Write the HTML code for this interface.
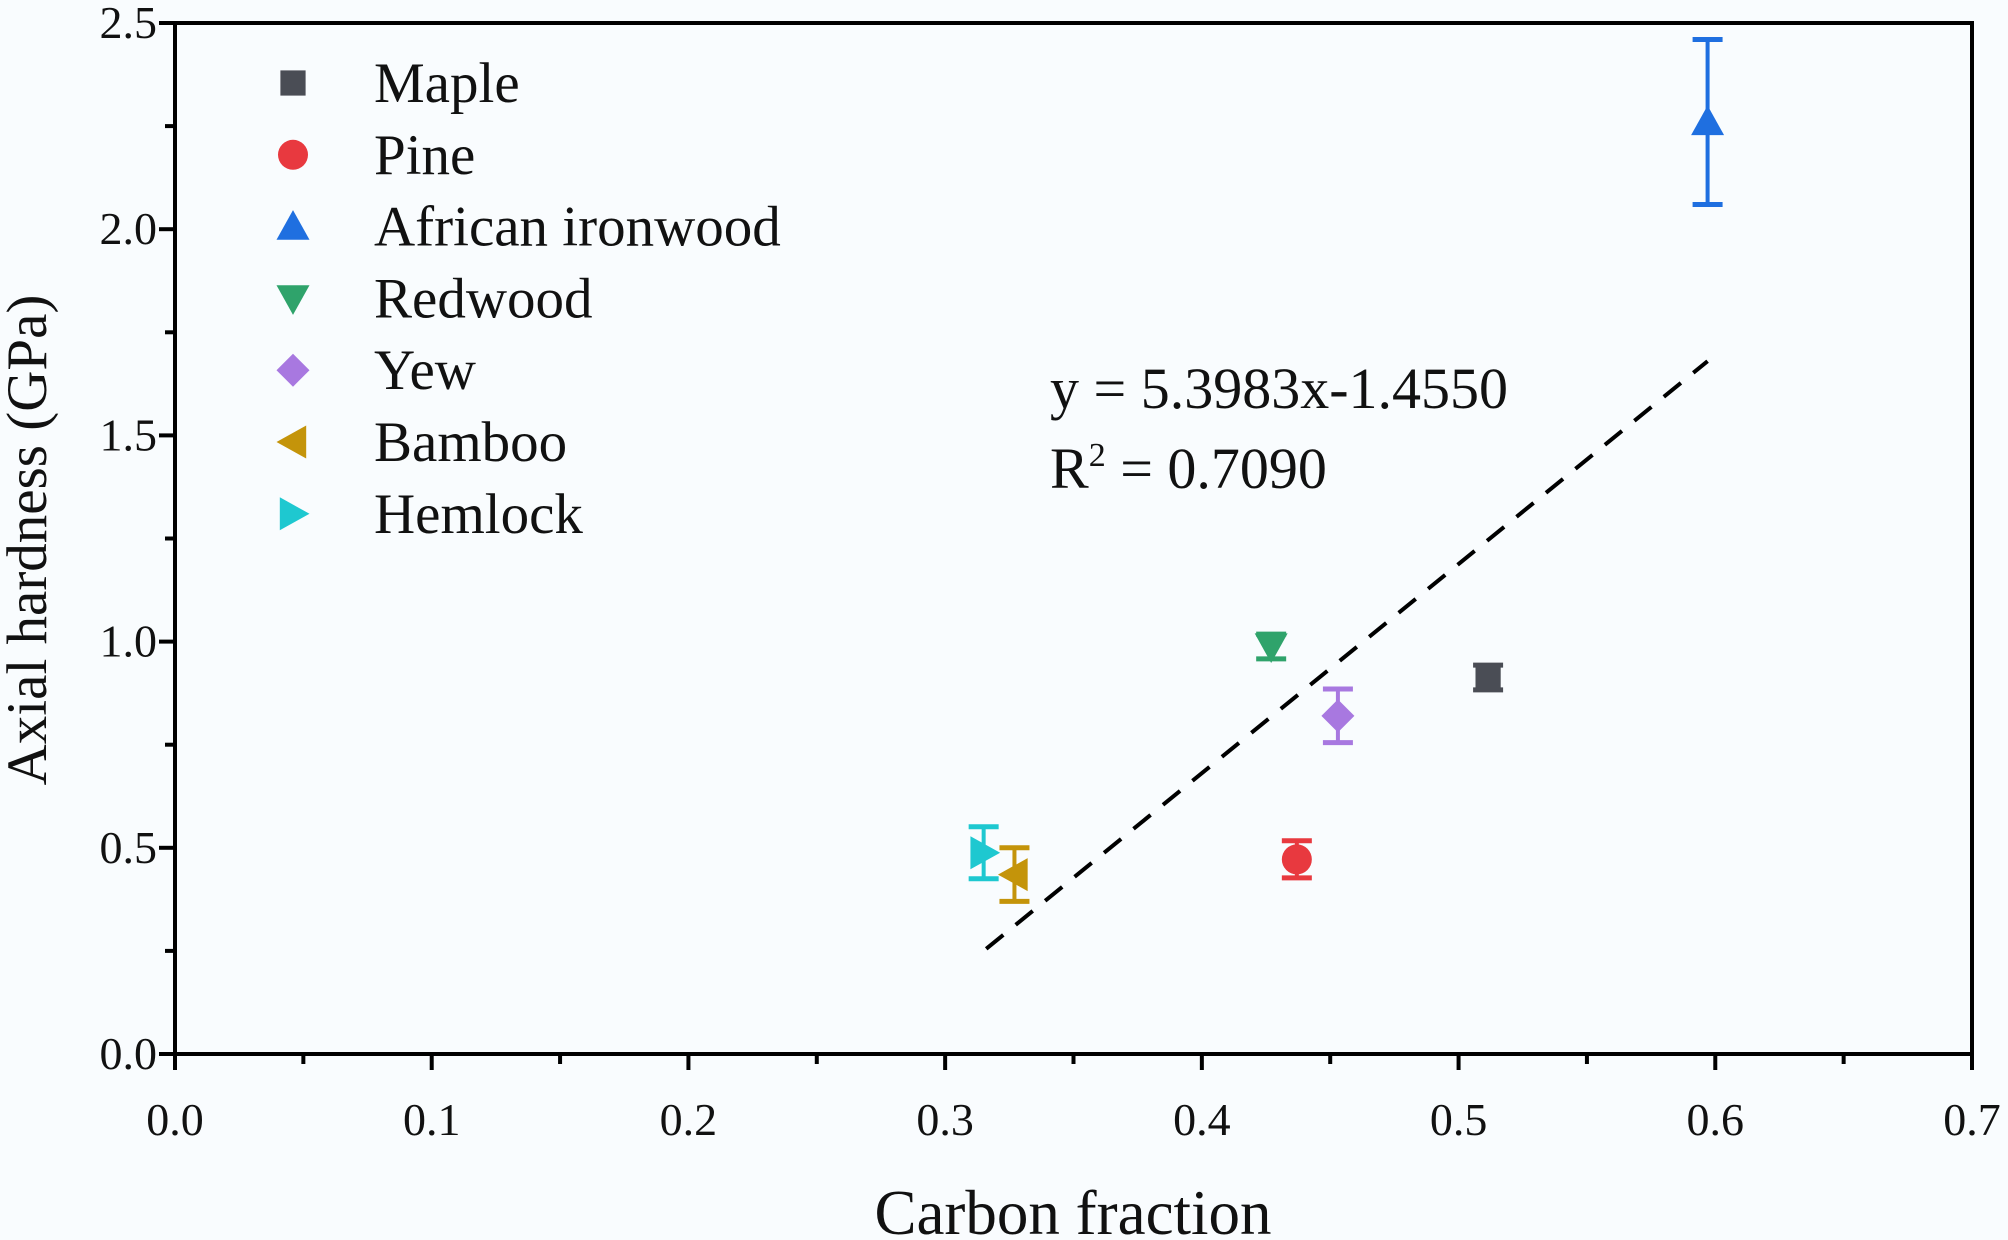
<!DOCTYPE html>
<html><head><meta charset="utf-8"><style>
html,body{margin:0;padding:0;background:#f9fcfe;}
svg{display:block;font-family:"Liberation Serif",serif;}
</style></head><body>
<svg id="chart" width="2008" height="1240" viewBox="0 0 2008 1240" xmlns="http://www.w3.org/2000/svg">
<rect x="0" y="0" width="2008" height="1240" fill="#f9fcfe"/>
<g id="plot"></g>
</svg>
<script>
const species = ["Maple","Pine","African ironwood","Redwood","Yew","Bamboo","Hemlock"];
const carbon = [0.5115,0.437,0.597,0.427,0.453,0.327,0.315];
const hardness = [0.913,0.472,2.26,0.988,0.82,0.435,0.488];
const hardnessErr = [0.03,0.045,0.2,0.03,0.065,0.065,0.063];
const shapes = ["square","circle","up","down","diamond","left","right"];
const colors = ["#4a4d55","#e8393f","#1f6fe0","#2fa36b","#a878e0","#c4940a","#1ec8d0"];
const fitX = [0.316,0.597];
const fitY = [0.255,1.68];
const xTicks = [0,0.1,0.2,0.3,0.4,0.5,0.6,0.7];
const xTickLabels = ["0.0","0.1","0.2","0.3","0.4","0.5","0.6","0.7"];
const yTicks = [0,0.5,1.0,1.5,2.0,2.5];
const yTickLabels = ["0.0","0.5","1.0","1.5","2.0","2.5"];

const L=175,R=1972,T=23,B=1054;
const xS=v=>L+(v-0)/(0.7)*(R-L);
const yS=v=>B-(v-0)/(2.5)*(B-T);
const NS="http://www.w3.org/2000/svg";
const g=document.getElementById('plot');
function mk(tag,attrs,parent){const e=document.createElementNS(NS,tag);for(const k in attrs)e.setAttribute(k,attrs[k]);(parent||g).appendChild(e);return e;}

function marker(shape,cx,cy,s,color,parent){
  let e;
  if(shape==="square") e=mk('rect',{x:cx-s*0.42,y:cy-s*0.42,width:s*0.84,height:s*0.84,fill:color},parent);
  else if(shape==="circle") e=mk('circle',{cx:cx,cy:cy,r:s*0.5,fill:color},parent);
  else {
    let p;
    const h=s*0.55;
    if(shape==="up") p=[[cx,cy-h],[cx+h,cy+h*0.8],[cx-h,cy+h*0.8]];
    if(shape==="down") p=[[cx,cy+h],[cx+h,cy-h*0.8],[cx-h,cy-h*0.8]];
    if(shape==="left") p=[[cx-h,cy],[cx+h*0.8,cy-h],[cx+h*0.8,cy+h]];
    if(shape==="right") p=[[cx+h,cy],[cx-h*0.8,cy-h],[cx-h*0.8,cy+h]];
    if(shape==="diamond") p=[[cx,cy-h],[cx+h,cy],[cx,cy+h],[cx-h,cy]];
    e=mk('polygon',{points:p.map(a=>a.join(',')).join(' '),fill:color},parent);
  }
  return e;
}

const frame=mk('rect',{x:L,y:T,width:R-L,height:B-T,fill:'none',stroke:'#000','stroke-width':4});



xTicks.forEach((v,i)=>{
  const t=mk('line',{x1:xS(v),x2:xS(v),y1:B,y2:B+16,stroke:'#000','stroke-width':4});
  
  
  if(i<xTicks.length-1){
    const m=mk('line',{x1:xS(v+0.05),x2:xS(v+0.05),y1:B,y2:B+10,stroke:'#000','stroke-width':4});
    
    
  }
  const tx=mk('text',{x:xS(v),y:1135,'text-anchor':'middle','font-size':46,fill:'#111'});
  tx.textContent=xTickLabels[i];
  
  
});
yTicks.forEach((v,i)=>{
  const t=mk('line',{x1:L-16,x2:L,y1:yS(v),y2:yS(v),stroke:'#000','stroke-width':4});
  
  
  if(i<yTicks.length-1){
    const m=mk('line',{x1:L-10,x2:L,y1:yS(v+0.25),y2:yS(v+0.25),stroke:'#000','stroke-width':4});
    
    
  }
  const tx=mk('text',{x:157,y:yS(v)+15,'text-anchor':'end','font-size':46,fill:'#111'});
  tx.textContent=yTickLabels[i];
  
  
});

const xt=mk('text',{x:1073,y:1234,'text-anchor':'middle','font-size':63,fill:'#111'});
xt.textContent='Carbon fraction';


const yt=mk('text',{x:0,y:0,'text-anchor':'middle','font-size':57,fill:'#111',transform:'translate(46,540) rotate(-90)'});
yt.textContent='Axial hardness (GPa)';



const fl=mk('line',{x1:xS(fitX[0]),y1:yS(fitY[0]),x2:xS(fitX[1]),y2:yS(fitY[1]),stroke:'#000','stroke-width':4,'stroke-dasharray':'22 16'});



const eq1=mk('text',{x:1050,y:408,'font-size':58,fill:'#111'});
eq1.textContent='y = 5.3983x-1.4550';


const eq2=mk('text',{x:1050,y:488,'font-size':58,fill:'#111'});
eq2.innerHTML='R<tspan dy="-22" font-size="34">2</tspan><tspan dy="22"> = 0.7090</tspan>';



species.forEach((s,i)=>{
  const grp=mk('g',{});
  
  
  const cx=xS(carbon[i]),cy=yS(hardness[i]);
  const y1=yS(hardness[i]+hardnessErr[i]),y2=yS(hardness[i]-hardnessErr[i]);
  mk('line',{x1:cx,x2:cx,y1:y1,y2:y2,stroke:colors[i],'stroke-width':4},grp);
  mk('line',{x1:cx-15,x2:cx+15,y1:y1,y2:y1,stroke:colors[i],'stroke-width':5},grp);
  mk('line',{x1:cx-15,x2:cx+15,y1:y2,y2:y2,stroke:colors[i],'stroke-width':5},grp);
  marker(shapes[i],cx,cy,30,colors[i],grp);
});

species.forEach((s,i)=>{
  const grp=mk('g',{});
  
  
  const y=83+i*71.8;
  marker(shapes[i],293,y,30,colors[i],grp);
  const t=mk('text',{x:374,y:y+19,'font-size':57,fill:'#111'},grp);
  t.textContent=s;
});
</script>
</body></html>
